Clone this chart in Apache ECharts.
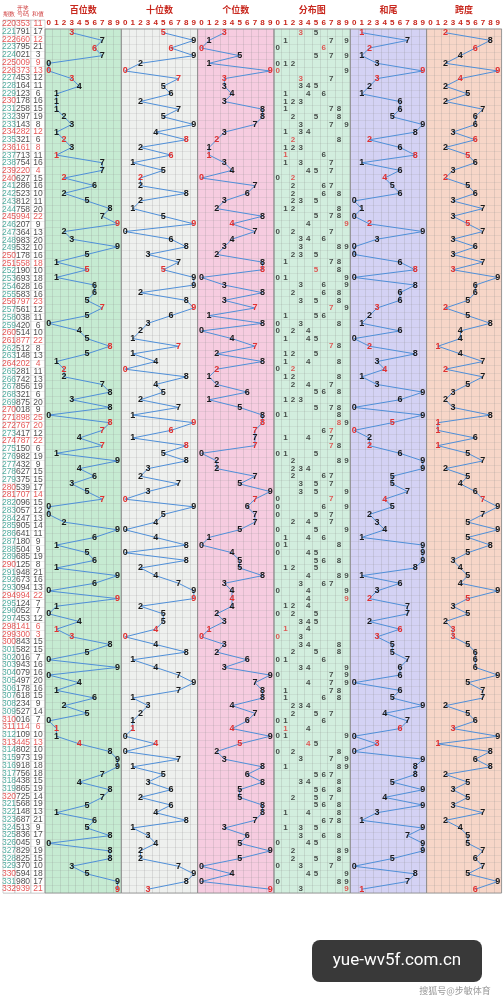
<!DOCTYPE html><html><head><meta charset="utf-8"><script src="https://cdn.jsdelivr.net/npm/echarts@6/dist/echarts.min.js"></script>
<style>body{margin:0;background:#fff}#c{width:503px;height:1000px}</style></head><body><div id="c"></div><script>
const periods=[];for(let p=220;p<=332;p++)periods.push(String(p));
const draws=['353','791','660','795','021','009','373','453','164','123','178','258','397','143','282','321','161','713','754','220','627','286','523','812','758','994','207','364','983','532','178','558','190','693','628','583','797','561','038','420','514','877','512','148','202','281','742','856','321','875','018','898','767','417','787','150','982','432','627','375','539','707','096','057','247','905','641','180','504','685','125','948','673','094','994','124','052','453','141','300','843','582','016','943','079','497','178','618','234','527','016','114','109','445','802','973','918','756','438','865','725','568','148','687','513','836','045','829','825','370','594','980','939'];
const digitLabels=['0','1','2','3','4','5','6','7','8','9'];
const leftTitles=['期数','开奖\n号码','和值'];
const sectionTitles=['百位数','十位数','个位数','分布图','和尾','跨度'];
const sectionColors=['#c6ebd2','#eef0ee','#f6cce0','#d2eede','#d4d2f4','#f7d6c8'];
const d=draws.map(s=>s.split('').map(Number));
const sums=d.map(a=>a[0]+a[1]+a[2]);
const isRed=d.map(a=>new Set(a).size<3);
const hund=d.map(a=>a[0]),ten=d.map(a=>a[1]),unit=d.map(a=>a[2]);
const tail=sums.map(s=>s%10);
const span=d.map(a=>Math.max(...a)-Math.min(...a));
const gTop=20,gBottom=107;
const grids=[],xAxes=[],yAxes=[],series=[];
const rows=periods.map((p,i)=>i);
function yAx(gi){return {type:'category',gridIndex:gi,data:rows,inverse:true,boundaryGap:true,axisLine:{show:false},axisTick:{show:false},axisLabel:{show:false},splitLine:{show:true,interval:0,lineStyle:{color:'rgba(150,150,150,0.35)',width:0.5}}};}
const nf='"Liberation Sans Narrow", sans-serif';
const leftCols=[[0,15],[15,16],[31,14]];
const leftTexts=[periods,draws,sums.map(String)];
const leftColor=[(i)=>(isRed[i]||periods[i].endsWith('0'))?'#e03030':'#2a9a8a',(i)=>isRed[i]?'#e03030':'#222',(i)=>isRed[i]?'#e03030':'#222'];
for(let c=0;c<3;c++){
  grids.push({left:leftCols[c][0],width:leftCols[c][1],top:gTop,bottom:gBottom,show:true,backgroundColor:'#fff',borderColor:'#aaa',borderWidth:0.5});
  xAxes.push({type:'category',gridIndex:c,position:'top',data:[leftTitles[c]],axisLine:{show:false},axisTick:{show:false},axisLabel:{fontSize:5.5,color:'#c33',margin:3,interval:0,lineHeight:6}});
  yAxes.push(yAx(c));
  const txt=leftTexts[c];
  series.push({type:'scatter',xAxisIndex:c,yAxisIndex:c,symbolSize:0,data:txt.map((t,i)=>({value:[0,i],label:{color:leftColor[c](i)}})),label:{show:true,formatter:p=>txt[p.value[1]],fontSize:8.5,fontFamily:nf}});
}
const secW=76.33;
const vals=[hund,ten,unit,null,tail,span];
for(let s=0;s<6;s++){
  const gi=s+3;
  grids.push({left:45+s*secW,width:secW,top:gTop,bottom:gBottom,show:true,backgroundColor:sectionColors[s],borderColor:'#888',borderWidth:0.8});
  xAxes.push({type:'category',gridIndex:gi,position:'top',data:digitLabels,name:sectionTitles[s],nameLocation:'middle',nameGap:13,nameTextStyle:{color:'#c8281e',fontSize:9,fontWeight:'bold',fontFamily:'Noto Sans CJK SC'},axisLine:{show:false},axisTick:{show:false},axisLabel:{fontSize:8,color:'#c8281e',margin:2,fontWeight:'bold',interval:0},splitLine:{show:true,interval:0,lineStyle:{color:'rgba(140,140,140,0.45)',width:0.5}}});
  yAxes.push(yAx(gi));
  if(s===3){
    const pts=[];d.forEach((a,i)=>{[...new Set(a)].forEach(v=>pts.push({value:[v,i],label:{color:isRed[i]&&a.filter(x=>x===v).length>1?'#e03030':'#222'}}));});
    series.push({type:'scatter',xAxisIndex:gi,yAxisIndex:gi,symbolSize:0,data:pts,label:{show:true,formatter:p=>p.value[0],fontSize:8,fontWeight:'bold'}});
  } else {
    const v=vals[s];
    series.push({type:'line',xAxisIndex:gi,yAxisIndex:gi,symbol:'circle',symbolSize:0,showSymbol:true,lineStyle:{color:'#4f8fd8',width:1},data:v.map((x,i)=>({value:[x,i],label:{color:isRed[i]?'#e03030':'#1a1a1a'}})),label:{show:true,position:'inside',formatter:p=>p.value[0],fontSize:9,fontWeight:'bold'}});
  }
}
const chart=echarts.init(document.getElementById('c'));
chart.setOption({animation:false,grid:grids,xAxis:xAxes,yAxis:yAxes,series,
graphic:[{type:'rect',shape:{x:312,y:940,width:170,height:42,r:8},style:{fill:'rgba(30,30,30,0.88)'}},
{type:'text',x:397,y:961,style:{text:'yue-wv5f.com.cn',fill:'#fff',font:'17px Roboto, sans-serif',align:'center',verticalAlign:'middle'}},
{type:'text',x:455,y:991,style:{text:'搜狐号@步敏体育',fill:'#999',font:'9px "Noto Sans CJK SC"',align:'center',verticalAlign:'middle'}}]});
</script></body></html>
